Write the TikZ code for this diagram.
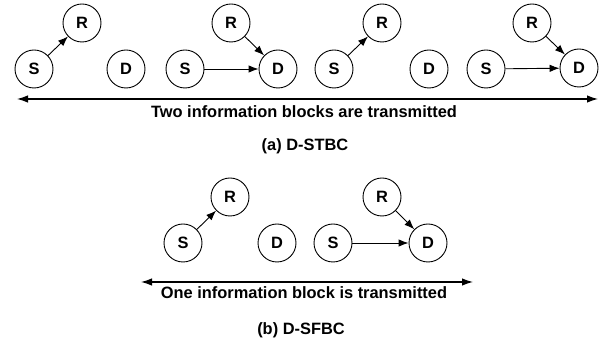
\documentclass[tikz,border=0pt]{standalone}
\usepackage{fontspec}
\setmainfont{Liberation Sans}
\usetikzlibrary{arrows.meta}
\begin{document}
\begin{tikzpicture}[x=1pt,y=-1pt,
  nd/.style={circle,draw,line width=0.9pt,minimum size=38pt,inner sep=0pt,font=\fontsize{16.4}{18}\selectfont\bfseries},
  lnk/.style={line width=0.9pt,-{Latex[length=10pt,width=7.5pt]}},
  span/.style={line width=1.2pt,{Latex[length=11pt,width=7.5pt]}-{Latex[length=11pt,width=7.5pt]}},
  lbl/.style={font=\fontsize{16.4}{18}\selectfont\bfseries,inner sep=0pt}]
\useasboundingbox (0,0) rectangle (606,344);
% (a) top row
\node[nd] (s1) at (34,69) {S};
\node[nd] (r1) at (82,23) {R};
\node[nd] (d1) at (126,69) {D};
\node[nd] (s2) at (185,69) {S};
\node[nd] (r2) at (231,23) {R};
\node[nd] (d2) at (278,69) {D};
\node[nd] (s3) at (334,69) {S};
\node[nd] (r3) at (382,23) {R};
\node[nd] (d3) at (429,69) {D};
\node[nd] (s4) at (486,69) {S};
\node[nd] (r4) at (532,23) {R};
\node[nd] (d4) at (579,68) {D};
\draw[lnk] (s1) -- (r1);
\draw[lnk] (r2) -- (d2);
\draw[lnk] (s2) -- (d2);
\draw[lnk] (s3) -- (r3);
\draw[lnk] (r4) -- (d4);
\draw[lnk] (s4) -- (d4);
\coordinate (a1) at (17,99);
\coordinate (a2) at (598,99);
\draw[span] (a1) -- (a2);
\node[lbl] (ta) at (304,112) {Two information blocks are transmitted};
\node[lbl] (ca) at (305,146) {(a) D-STBC};
% (b) bottom row
\node[nd] (s5) at (183,243) {S};
\node[nd] (r5) at (230,197) {R};
\node[nd] (d5) at (277,243) {D};
\node[nd] (s6) at (333,243) {S};
\node[nd] (r6) at (382,197) {R};
\node[nd] (d6) at (428,243) {D};
\draw[lnk] (s5) -- (r5);
\draw[lnk] (r6) -- (d6);
\draw[lnk] (s6) -- (d6);
\coordinate (b1) at (141,282);
\coordinate (b2) at (473,282);
\draw[span] (b1) -- (b2);
\node[lbl] (tb) at (304,293) {One information block is transmitted};
\node[lbl] (cb) at (301,330) {(b) D-SFBC};
\end{tikzpicture}
\end{document}
